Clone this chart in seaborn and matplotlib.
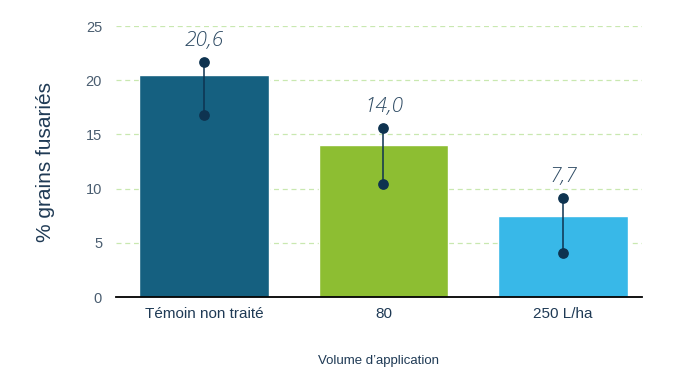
import seaborn as sns
import pandas as pd
import matplotlib.pyplot as plt

# Données
categories = ['Témoin non traité', '80', '250 L/ha']
valeurs = [20.5, 14.0, 7.5]
etiquettes = ['20,6', '14,0', '7,7']
err_bas = [16.8, 10.4, 4.1]
err_haut = [21.7, 15.6, 9.1]
couleurs = ['#156080', '#8dbe32', '#38b8e8']

df = pd.DataFrame({'Volume': categories, 'Valeur': valeurs})

sns.set_style('white')
plt.rcParams['font.family'] = ['Liberation Sans', 'DejaVu Sans']

fig = plt.figure(figsize=(6.8, 3.83), dpi=100)
ax = fig.add_axes([0.1706, 0.2245, 0.7735, 0.7075])

sns.barplot(data=df, x='Volume', y='Valeur', hue='Volume', palette=couleurs,
            width=0.72, saturation=1, legend=False, ax=ax, zorder=2)

# barres d'erreur avec points aux extrémités
for i in range(len(categories)):
    ax.plot([i, i], [err_bas[i], err_haut[i]], color='#0e3350', lw=1.1,
            zorder=3)
    ax.scatter([i, i], [err_bas[i], err_haut[i]], s=45, color='#0e3350',
               zorder=4)
    ax.annotate(etiquettes[i], xy=(i, err_haut[i]), xytext=(0, 8),
                textcoords='offset points', ha='center', va='bottom',
                fontsize=15, style='italic', color='#2d4a63',
                family=['Open Sans', 'DejaVu Sans'], fontweight='light',
                annotation_clip=False)

ax.set_ylim(0, 25)
ax.set_xlim(-0.49, 2.44)
ax.set_yticks([0, 5, 10, 15, 20, 25])
ax.yaxis.grid(True, color='#c9e8b0', linestyle=(0, (4, 3)), lw=0.9)
ax.set_axisbelow(True)

for s in ['left', 'right', 'top']:
    ax.spines[s].set_visible(False)
ax.spines['bottom'].set_color('black')
ax.spines['bottom'].set_linewidth(1.3)
ax.spines['bottom'].set_zorder(5)

ax.tick_params(axis='y', length=0, labelsize=10.5, labelcolor='#4a5d70', pad=10)
ax.tick_params(axis='x', length=0, labelsize=11, labelcolor='#1f3a55', pad=7)

ax.set_ylabel('% grains fusariés', fontsize=15, color='#1f3a55', labelpad=22)
ax.set_xlabel('Volume d\u2019application', fontsize=9.5, color='#1f3a55',
              labelpad=25)

plt.savefig('out.png', dpi=100)
